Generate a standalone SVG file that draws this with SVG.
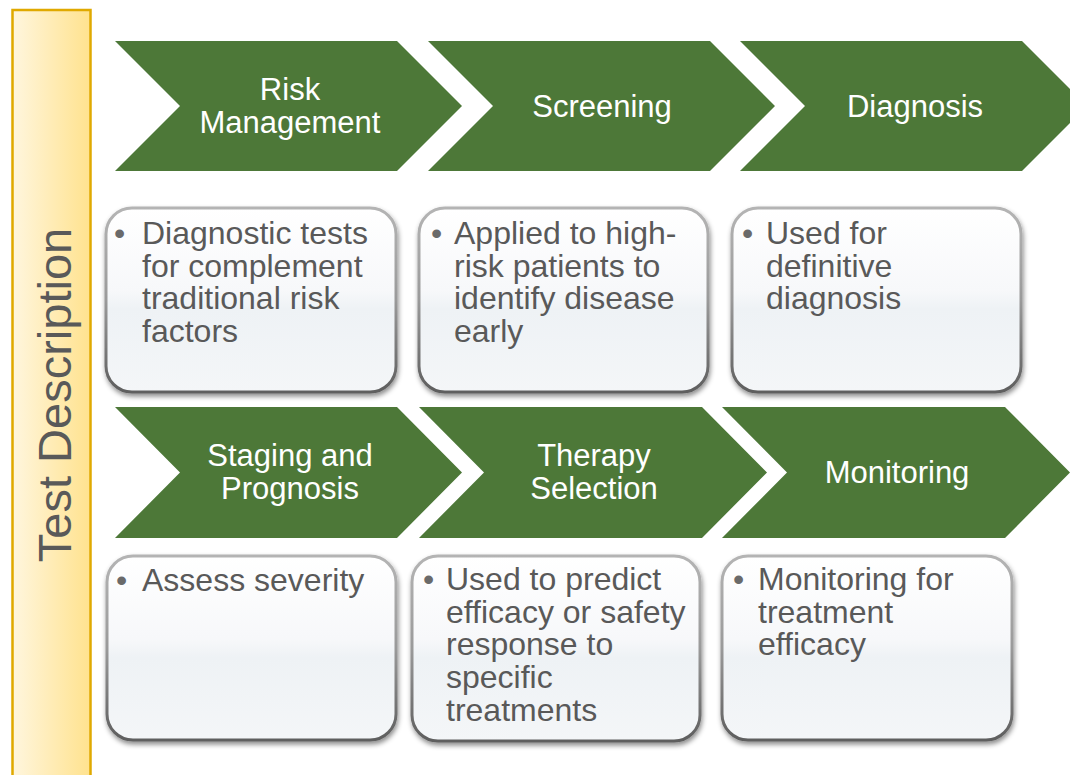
<svg xmlns="http://www.w3.org/2000/svg" width="1070" height="775" viewBox="0 0 1070 775">
  <defs>
    <linearGradient id="barFill" x1="0" y1="0" x2="1" y2="0">
      <stop offset="0" stop-color="#FFF6DE"/>
      <stop offset="1" stop-color="#FFE28E"/>
    </linearGradient>
    <linearGradient id="boxFill" x1="0" y1="0" x2="0" y2="1">
      <stop offset="0" stop-color="#FFFFFF"/>
      <stop offset="0.45" stop-color="#F7F8FA"/>
      <stop offset="0.55" stop-color="#EEF2F5"/>
      <stop offset="1" stop-color="#F4F6F8"/>
    </linearGradient>
    <linearGradient id="boxEdge" x1="0" y1="0" x2="0" y2="1">
      <stop offset="0" stop-color="#B4B4B4"/>
      <stop offset="0.5" stop-color="#9A9A9A"/>
      <stop offset="1" stop-color="#5E5E5E"/>
    </linearGradient>
    <filter id="boxShadow" x="-10%" y="-10%" width="120%" height="125%">
      <feDropShadow dx="1" dy="3" stdDeviation="2.5" flood-color="#000" flood-opacity="0.45"/>
    </filter>
  </defs>
  <style>
    .chev { fill: #4D7838; }
    .chevText { font-family: "Liberation Sans", Arial, sans-serif; font-size: 31px; fill: #FFFFFF; text-anchor: middle; }
    .box { fill: url(#boxFill); stroke: url(#boxEdge); stroke-width: 3; filter: url(#boxShadow); }
    .boxText { font-family: "Liberation Sans", Arial, sans-serif; font-size: 32px; fill: #595959; }
    .bullet { font-family: "Liberation Sans", Arial, sans-serif; font-size: 32px; fill: #6A6A6A; }
    .side { fill: url(#barFill); stroke: #E0A900; stroke-width: 2.5; }
    .sideText { font-family: "Liberation Sans", Arial, sans-serif; font-size: 47px; fill: #595959; text-anchor: middle; }
  </style>

  <rect width="1070" height="775" fill="#FFFFFF"/>

  <!-- vertical side label -->
  <g id="test-description">
    <rect class="side" x="12.5" y="10" width="78" height="780"/>
    <text class="sideText" transform="translate(71 395) rotate(-90)">Test Description</text>
  </g>

  <!-- first row of stages -->
  <g id="risk-management">
    <path class="chev" d="M115 41 H397 L462 106 L397 171 H115 L180 106 Z"/>
    <text class="chevText" x="290" y="100">Risk<tspan x="290" dy="32.5">Management</tspan></text>
  </g>
  <g id="screening">
    <path class="chev" d="M428 41 H710 L775 106 L710 171 H428 L493 106 Z"/>
    <text class="chevText" x="602" y="117">Screening</text>
  </g>
  <g id="diagnosis">
    <path class="chev" d="M740 41 H1022 L1087 106 L1022 171 H740 L805 106 Z"/>
    <text class="chevText" x="915" y="117">Diagnosis</text>
  </g>

  <g id="risk-management-desc">
    <rect class="box" x="106" y="208" width="290" height="184" rx="26" ry="26"/>
    <text class="bullet" x="114" y="244">•</text>
    <text class="boxText" x="142" y="244">Diagnostic tests<tspan x="142" dy="32.7">for complement</tspan><tspan x="142" dy="32.7">traditional risk</tspan><tspan x="142" dy="32.7">factors</tspan></text>
  </g>
  <g id="screening-desc">
    <rect class="box" x="419" y="208" width="289" height="184" rx="26" ry="26"/>
    <text class="bullet" x="431" y="244">•</text>
    <text class="boxText" x="454" y="244">Applied to high-<tspan x="454" dy="32.7">risk patients to</tspan><tspan x="454" dy="32.7">identify disease</tspan><tspan x="454" dy="32.7">early</tspan></text>
  </g>
  <g id="diagnosis-desc">
    <rect class="box" x="732" y="208" width="289" height="184" rx="26" ry="26"/>
    <text class="bullet" x="742" y="244">•</text>
    <text class="boxText" x="766" y="244">Used for<tspan x="766" dy="32.7">definitive</tspan><tspan x="766" dy="32.7">diagnosis</tspan></text>
  </g>

  <!-- second row of stages -->
  <g id="staging-prognosis">
    <path class="chev" d="M115 407 H397 L462 472.5 L397 538 H115 L180 472.5 Z"/>
    <text class="chevText" x="290" y="466">Staging and<tspan x="290" dy="32.5">Prognosis</tspan></text>
  </g>
  <g id="therapy-selection">
    <path class="chev" d="M419 407 H702 L767 472.5 L702 538 H419 L484 472.5 Z"/>
    <text class="chevText" x="594" y="466">Therapy<tspan x="594" dy="32.5">Selection</tspan></text>
  </g>
  <g id="monitoring">
    <path class="chev" d="M722 407 H1005 L1070 472.5 L1005 538 H722 L787 472.5 Z"/>
    <text class="chevText" x="897" y="483">Monitoring</text>
  </g>

  <g id="staging-prognosis-desc">
    <rect class="box" x="107" y="556" width="289" height="184" rx="26" ry="26"/>
    <text class="bullet" x="116" y="591">•</text>
    <text class="boxText" x="142" y="591">Assess severity</text>
  </g>
  <g id="therapy-selection-desc">
    <rect class="box" x="412" y="556" width="288" height="185" rx="26" ry="26"/>
    <text class="bullet" x="423" y="590">•</text>
    <text class="boxText" x="446" y="590">Used to predict<tspan x="446" dy="32.7">efficacy or safety</tspan><tspan x="446" dy="32.7">response to</tspan><tspan x="446" dy="32.7">specific</tspan><tspan x="446" dy="32.7">treatments</tspan></text>
  </g>
  <g id="monitoring-desc">
    <rect class="box" x="722" y="556" width="290" height="184" rx="26" ry="26"/>
    <text class="bullet" x="733" y="590">•</text>
    <text class="boxText" x="758" y="590">Monitoring for<tspan x="758" dy="32.7">treatment</tspan><tspan x="758" dy="32.7">efficacy</tspan></text>
  </g>
</svg>
